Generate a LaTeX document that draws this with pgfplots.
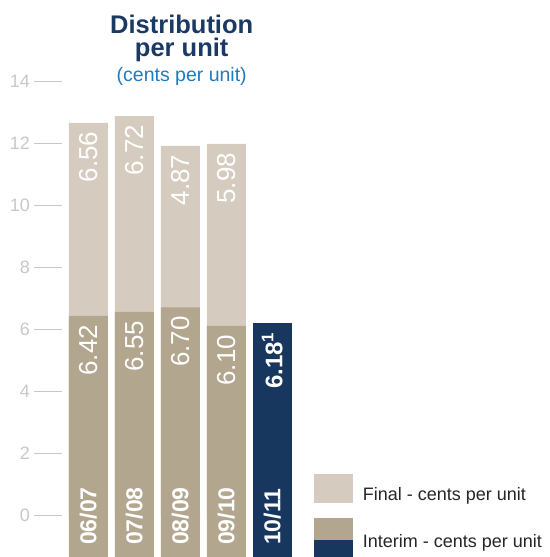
\documentclass[border=0pt]{standalone}
\usepackage{fontspec}
\setmainfont{Liberation Sans}
\usepackage{pgfplots}
\pgfplotsset{compat=1.18}

\definecolor{finalc}{HTML}{D5CCBF}
\definecolor{interimc}{HTML}{B2A68F}
\definecolor{navyc}{HTML}{17375F}
\definecolor{tickc}{HTML}{C8C8C8}
\definecolor{titlec}{HTML}{1B3A63}
\definecolor{subc}{HTML}{1E7BBF}

\begin{document}
\begin{tikzpicture}
\begin{axis}[
    at={(34pt,0pt)}, anchor=south west,
    scale only axis, width=261.3pt, height=491.5pt,
    xmin=-1.18, xmax=4.5, ymin=-1.355, ymax=14.5,
    ybar, bar width=39pt,
    axis line style={draw=none},
    axis on top,
    ytick={0,2,...,14}, ytick pos=left,
    tick align=inside, major tick length=28pt,
    ytick style={draw=tickc, line width=0.9pt},
    yticklabel style={text=tickc, font=\fontsize{18}{18}\selectfont, inner xsep=4pt},
    /pgf/number format/assume math mode=true,
    xtick={0,...,4}, xtick style={draw=none},
    xticklabels={06/07,07/08,08/09,09/10,10/11},
    xticklabel style={yshift=12pt, rotate=90, anchor=west, inner sep=0pt,
        text=white, font=\fontsize{23}{23}\selectfont\bfseries},
    point meta=explicit symbolic,
    every node near coord/.append style={rotate=90, anchor=east, inner sep=0pt,
        outer xsep=9pt, text=white, font=\fontsize{26}{26}\selectfont},
    legend style={draw=none, fill=none, inner sep=0pt, at={(1.0716,0.1689)},
        anchor=north west, row sep=15.3pt, column sep=10pt,
        nodes={inner sep=0pt}, font=\fontsize{18}{18}\selectfont,
        text=black!85},
    legend cell align=left,
]
% final: drawn tops of the stacked bars, labelled with the final amount
\addplot[fill=finalc, draw=none, bar shift=0pt, nodes near coords,
    legend image code/.code={\fill[finalc] (0pt,-8.2pt) rectangle (38.7pt,20.5pt);}]
    coordinates {(0,12.65) [6.56] (1,12.87) [6.72] (2,11.91) [4.87] (3,11.97) [5.98]};
\addlegendentry{Final - cents per unit}

% interim
\addplot[fill=interimc, draw=none, bar shift=0pt, nodes near coords,
    legend image code/.code={
        \fill[interimc] (0pt,1.5pt) rectangle (38.7pt,23.5pt);
        \fill[navyc] (0pt,-16pt) rectangle (38.7pt,1.5pt);}]
    coordinates {(0,6.42) [6.42] (1,6.55) [6.55] (2,6.70) [6.70] (3,6.10) [6.10]};
\addlegendentry{Interim - cents per unit}

% 10/11 interim
\addplot[fill=navyc, draw=none, bar shift=0pt, nodes near coords, forget plot,
    every node near coord/.append style={font=\fontsize{24}{24}\selectfont\bfseries}]
    coordinates {(4,6.18) [6.18\textsuperscript{1}]};

% bars run on below the zero line
\addplot[fill=interimc, draw=none, bar shift=0pt, forget plot]
    coordinates {(0,-2) (1,-2) (2,-2) (3,-2)};
\addplot[fill=navyc, draw=none, bar shift=0pt, forget plot]
    coordinates {(4,-2)};
\end{axis}

\node[anchor=base, text=titlec, font=\fontsize{25.5}{25.5}\selectfont\bfseries]
    at (181.7pt,523.7pt) {Distribution};
\node[anchor=base, text=titlec, font=\fontsize{25.5}{25.5}\selectfont\bfseries]
    at (181.7pt,500pt) {per unit};
\node[anchor=base, text=subc, font=\fontsize{19.5}{19.5}\selectfont]
    at (181.7pt,475.8pt) {(cents per unit)};

\pgfresetboundingbox
\path[use as bounding box] (0pt,0pt) rectangle (549pt,557pt);
\end{tikzpicture}
\end{document}
